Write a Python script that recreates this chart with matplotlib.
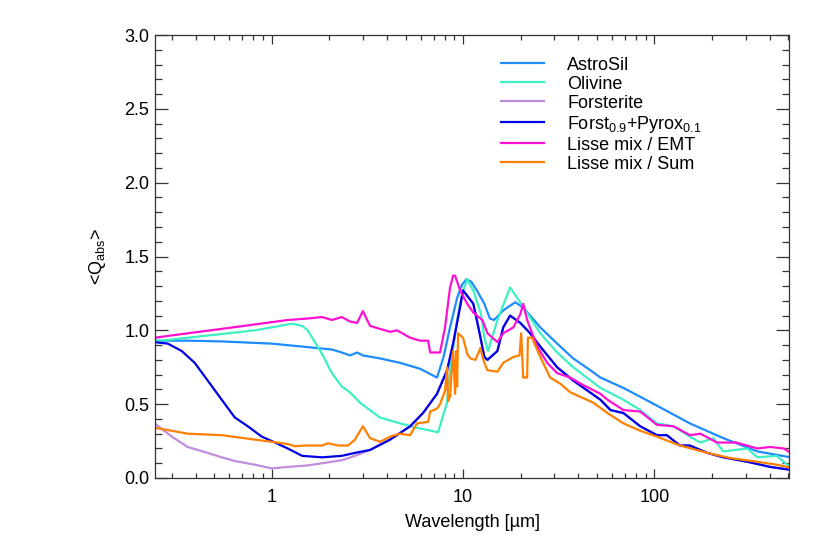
import matplotlib
matplotlib.use("Agg")
import matplotlib.pyplot as plt
from matplotlib.ticker import FixedLocator, NullFormatter, MultipleLocator, FormatStrFormatter

plt.rcParams['font.family'] = ['Liberation Sans', 'DejaVu Sans']
plt.rcParams['mathtext.fontset'] = 'custom'
plt.rcParams['mathtext.rm'] = 'Liberation Sans'
plt.rcParams['mathtext.it'] = 'Liberation Sans'

# wavelength [micron] / <Q_abs>
astro_wl = [0.244, 0.363, 0.547, 0.815, 1.0, 1.44, 2.06, 2.32, 2.56, 2.79, 2.99, 3.67, 4.67, 5.95, 7.30,
            7.9, 8.54, 9.30, 9.87, 10.4, 11.0, 11.8, 12.9, 13.8, 14.5, 16.2, 18.7, 20.6, 25.3, 31.0,
            37.6, 46.2, 52.2, 68.8, 84.3, 103, 153, 229, 345, 515]
astro_q = [0.93, 0.93, 0.925, 0.915, 0.91, 0.89, 0.87, 0.85, 0.83, 0.85, 0.83, 0.81, 0.78, 0.74, 0.68,
           0.82, 1.02, 1.22, 1.31, 1.345, 1.33, 1.27, 1.18, 1.08, 1.07, 1.135, 1.19, 1.155, 1.02, 0.91,
           0.81, 0.73, 0.68, 0.61, 0.55, 0.49, 0.37, 0.27, 0.18, 0.14]

oliv_wl = [0.244, 0.363, 0.547, 0.815, 1.0, 1.27, 1.44, 1.54, 1.83, 2.06, 2.32, 2.56, 2.89, 3.67, 4.67,
           5.74, 7.39, 8.24, 8.54, 9.30, 9.87, 10.5, 11.3, 12.4, 12.9, 13.5, 15.1, 17.6, 20.6, 25.3,
           31.0, 37.6, 52.2, 68.8, 84.3, 103, 126, 153, 174, 203, 229, 306, 345, 436, 515]
oliv_q = [0.925, 0.95, 0.975, 1.0, 1.02, 1.045, 1.03, 1.0, 0.84, 0.71, 0.62, 0.58, 0.51, 0.41, 0.37,
          0.34, 0.31, 0.51, 0.73, 1.07, 1.25, 1.345, 1.27, 1.11, 0.95, 0.86, 1.07, 1.29, 1.16, 0.98,
          0.85, 0.75, 0.61, 0.53, 0.46, 0.37, 0.35, 0.28, 0.24, 0.27, 0.18, 0.20, 0.14, 0.15, 0.07]

forst_wl = [0.244, 0.300, 0.363, 0.462, 0.547, 0.640, 0.815, 1.0, 1.21, 1.54, 1.83, 2.32, 2.72,
            3.26, 4.15, 5.28, 6.17, 7.30, 8.24, 8.86, 9.64, 9.99, 11.3, 12.1, 12.9, 13.4, 15.1, 16.2,
            17.6, 19.9, 22.4, 25.3, 31.0, 37.6, 52.2, 58.9, 68.8, 84.3, 103, 116, 136, 153, 189,
            229, 306, 403, 515]
forst_q = [0.37, 0.28, 0.21, 0.17, 0.14, 0.115, 0.09, 0.065, 0.075, 0.085, 0.10, 0.12, 0.15,
           0.19, 0.26, 0.35, 0.44, 0.57, 0.73, 0.91, 1.16, 1.27, 1.18, 1.0, 0.82, 0.80, 0.86, 1.02,
           1.10, 1.05, 0.98, 0.89, 0.75, 0.66, 0.53, 0.46, 0.44, 0.35, 0.29, 0.29, 0.22, 0.22, 0.17,
           0.14, 0.11, 0.075, 0.055]

fp_wl = [0.244, 0.286, 0.338, 0.395, 0.462, 0.547, 0.640, 0.749, 0.886, 1.04, 1.21, 1.44, 1.83, 2.32,
         2.72, 3.26, 4.15, 5.28, 6.17, 7.30, 8.24, 8.86, 9.64, 9.99, 11.3, 12.1, 12.9, 13.4, 15.1,
         16.2, 17.6, 19.9, 22.4, 25.3, 31.0, 37.6, 52.2, 58.9, 68.8, 84.3, 103, 116, 136, 153, 189,
         229, 306, 403, 515]
fp_q = [0.92, 0.91, 0.86, 0.78, 0.66, 0.53, 0.41, 0.35, 0.28, 0.24, 0.20, 0.15, 0.14, 0.15,
        0.17, 0.19, 0.26, 0.35, 0.44, 0.57, 0.73, 0.91, 1.16, 1.27, 1.18, 1.0, 0.82, 0.80, 0.86,
        1.02, 1.10, 1.05, 0.98, 0.89, 0.75, 0.66, 0.53, 0.46, 0.44, 0.35, 0.29, 0.29, 0.22, 0.22, 0.17,
        0.14, 0.11, 0.075, 0.055]

emt_wl = [0.244, 0.363, 0.547, 0.815, 1.21, 1.54, 1.83, 2.06, 2.32, 2.56, 2.79, 2.99, 3.26, 3.67, 4.15,
          4.51, 5.28, 5.95, 6.56, 6.72, 7.57, 8.04, 8.54, 8.86, 9.08, 9.64, 10.5, 11.3, 12.6, 13.4,
          15.1, 16.2, 18.3, 19.9, 20.6, 21.6, 24.4, 27.5, 31.0, 36.3, 40.9, 52.2, 56.8, 68.8, 84.3,
          103, 126, 153, 174, 212, 268, 345, 403, 474, 515]
emt_q = [0.95, 0.98, 1.01, 1.04, 1.07, 1.08, 1.09, 1.07, 1.09, 1.06, 1.05, 1.13, 1.03, 1.01, 0.99,
         1.0, 0.95, 0.93, 0.93, 0.85, 0.85, 1.02, 1.29, 1.37, 1.37, 1.27, 1.18, 1.12, 1.07, 0.98,
         0.92, 0.98, 1.02, 1.11, 1.18, 1.07, 0.89, 0.78, 0.71, 0.68, 0.64, 0.57, 0.53, 0.46, 0.45,
         0.36, 0.35, 0.29, 0.30, 0.24, 0.24, 0.20, 0.21, 0.20, 0.17]

sum_wl = [0.244, 0.300, 0.363, 0.547, 0.815, 1.0, 1.21, 1.32, 1.49, 1.83, 1.96, 2.22, 2.50, 2.72, 2.99,
          3.26, 3.67, 4.15, 4.67, 5.28, 5.74, 6.56, 6.72, 7.30, 7.57, 8.04, 8.24, 8.34, 8.54, 8.86,
          9.08, 9.19, 9.30, 9.41, 9.99, 10.5, 10.9, 11.6, 12.3, 12.9, 13.4, 15.1, 16.2, 18.3, 19.7,
          20.1, 20.6, 21.6, 21.8, 22.9, 25.3, 28.5, 32.1, 36.3, 40.9, 47.9, 56.8, 68.8, 84.3, 103,
          136, 189, 249, 345, 436, 515]
sum_q = [0.34, 0.32, 0.30, 0.29, 0.26, 0.245, 0.23, 0.215, 0.22, 0.22, 0.235, 0.22, 0.22, 0.26, 0.35,
         0.27, 0.245, 0.28, 0.30, 0.29, 0.37, 0.38, 0.45, 0.47, 0.50, 0.59, 0.75, 0.52, 0.55, 0.86,
         0.57, 0.86, 0.62, 0.98, 0.95, 0.84, 0.81, 0.80, 0.88, 0.78, 0.73, 0.72, 0.78, 0.82, 0.83,
         0.98, 0.68, 0.68, 0.95, 0.95, 0.82, 0.68, 0.64, 0.58, 0.55, 0.51, 0.44, 0.37, 0.32, 0.28,
         0.22, 0.17, 0.135, 0.11, 0.09, 0.07]

series = [
    (astro_wl, astro_q, "#1E8CFF", "AstroSil"),
    (oliv_wl, oliv_q, "#3CF0C4", "Olivine"),
    (forst_wl, forst_q, "#C08CDC", "Forsterite"),
    (fp_wl, fp_q, "#0000E6", r"Forst$_{0.9}$+Pyrox$_{0.1}$"),
    (emt_wl, emt_q, "#FF10D2", "Lisse mix / EMT"),
    (sum_wl, sum_q, "#FF8000", "Lisse mix / Sum"),
]

fig = plt.figure(figsize=(8.22, 5.48), dpi=100)
ax = fig.add_axes([155/822, 1-478/548, (789-155)/822, (478-35)/548])

for wl, q, col, lab in series:
    ax.plot(wl, q, color=col, lw=1.6, label=lab)

ax.set_xscale('log')
ax.set_xlim(0.245, 505)
ax.set_ylim(0, 3.0)

ax.xaxis.set_major_locator(FixedLocator([1, 10, 100]))
ax.xaxis.set_major_formatter(FormatStrFormatter('%g'))
ax.xaxis.set_minor_locator(FixedLocator([m * 10.0**e for e in (-1, 0, 1, 2) for m in range(2, 10)]))
ax.xaxis.set_minor_formatter(NullFormatter())
ax.yaxis.set_major_locator(MultipleLocator(0.5))
ax.yaxis.set_minor_locator(MultipleLocator(0.1))
ax.yaxis.set_major_formatter(FormatStrFormatter('%.1f'))

ax.tick_params(which='both', direction='in', top=True, right=True, labelsize=13, width=0.9, color='#333333')
ax.tick_params(axis='x', which='major', length=6.5, pad=8)
ax.tick_params(axis='x', which='minor', length=3.3)
ax.tick_params(axis='y', which='major', length=9.5, pad=4)
ax.tick_params(axis='y', which='minor', length=5)
for s in ax.spines.values():
    s.set_linewidth(0.9)
    s.set_color('#333333')

ax.set_xlabel(u'Wavelength [\u00b5m]', fontsize=13, labelpad=6)
ax.set_ylabel(r'<Q$_{\mathrm{abs}}$>', fontsize=13, labelpad=12)

leg = ax.legend(loc='upper left', bbox_to_anchor=(0.545, 0.951), frameon=False, fontsize=13,
                handlelength=2.4, handletextpad=1.3, labelspacing=0.11, borderpad=0, borderaxespad=0)

fig.savefig('out.png', dpi=100)
